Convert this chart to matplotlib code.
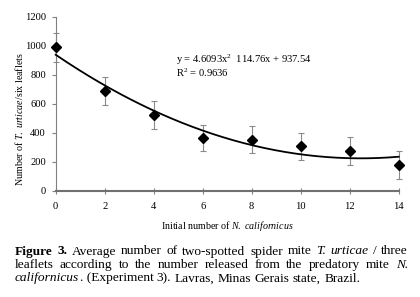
import matplotlib
matplotlib.use('Agg')
import matplotlib.pyplot as plt
import numpy as np

# ---- data ----
released = [0, 2, 4, 6, 8, 10, 12, 14]
mites = [990, 688, 520, 366, 352, 306, 272, 177]
err = [100, 95, 97, 90, 95, 95, 95, 95]
coef = [4.6093, -114.76, 937.54]
xticks = [0, 2, 4, 6, 8, 10, 12, 14]
yticks = [0, 200, 400, 600, 800, 1000, 1200]

plt.rcParams['font.family'] = ['Liberation Serif', 'DejaVu Serif']
plt.rcParams['mathtext.fontset'] = 'custom'
plt.rcParams['mathtext.rm'] = 'Liberation Serif'
plt.rcParams['mathtext.it'] = 'Liberation Serif:italic'
plt.rcParams['mathtext.bf'] = 'Liberation Serif:bold'

W, H = 420, 297
fig = plt.figure(figsize=(W / 100, H / 100), dpi=100)
x0, x1, ytop, ybot = 55.7, 398.7, 16.7, 190.7
ax = fig.add_axes([x0 / W, 1 - ybot / H, (x1 - x0) / W, (ybot - ytop) / H])

xs = np.linspace(0, 14, 300)
ax.plot(xs, np.polyval(coef, xs), color='black', lw=1.3, clip_on=False, zorder=3)
ax.errorbar(released, mites, yerr=err, fmt='none', ecolor='#8a8a8a',
            elinewidth=0.8, capsize=2.3, capthick=0.8, clip_on=False, zorder=2)
ax.plot(released, mites, 'D', color='black', ms=5.2, clip_on=False, zorder=5)

ax.set_xlim(0, 14)
ax.set_ylim(0, 1200)
ax.set_xticks(xticks)
ax.set_yticks(yticks)
for s in ('top', 'right'):
    ax.spines[s].set_visible(False)
ax.spines['left'].set_color('#808080')
ax.spines['left'].set_linewidth(0.8)
ax.spines['bottom'].set_color('#707070')
ax.spines['bottom'].set_linewidth(1.5)
ax.tick_params(axis='y', direction='out', length=3, width=0.8, color='#808080',
               labelsize=7.6, pad=4)
ax.tick_params(axis='x', direction='inout', length=4, width=0.8, color='#808080',
               labelsize=7.6, pad=6)

ax.text(4.9, 784, 'y = 4.6093x$^{2}$  114.76x + 937.54\nR$^{2}$ = 0.9636',
        fontsize=7.6, va='baseline', ha='left', linespacing=0.95)

fig.text(227 / W, 1 - 226 / H, r'Initial number of $\mathit{N.\ californicus}$',
         fontsize=7.2, ha='center', va='center')
fig.text(19 / W, 1 - 119 / H, r'Number of $\mathit{T.\ urticae}$/six leaflets',
         fontsize=7.2, ha='center', va='center', rotation=90)

# ---- caption, justified ----
cap_lines = [
    [("Figure", 'b'), ("3.", 'b'), ("Average", 'n'), ("number", 'n'), ("of", 'n'),
     ("two-spotted", 'n'), ("spider", 'n'), ("mite", 'n'), ("T.", 'i'), ("urticae", 'i'),
     ("/", 'n'), ("three", 'n')],
    [("leaflets", 'n'), ("according", 'n'), ("to", 'n'), ("the", 'n'), ("number", 'n'),
     ("released", 'n'), ("from", 'n'), ("the", 'n'), ("predatory", 'n'), ("mite", 'n'),
     ("N.", 'i')],
    [("californicus", 'i'), (". (Experiment", 'n'), ("3).", 'n'), ("Lavras,", 'n'),
     ("Minas", 'n'), ("Gerais", 'n'), ("state,", 'n'), ("Brazil.", 'n')],
]
baselines = [254.5, 268, 281.5]
justify = [True, True, False]
cap_fs = 9.6
left_px, right_px = 15, 408
renderer = fig.canvas.get_renderer()
probe1 = fig.text(0, 0, 'a b', fontsize=cap_fs)
probe2 = fig.text(0, 0, 'ab', fontsize=cap_fs)
space = probe1.get_window_extent(renderer).width - probe2.get_window_extent(renderer).width
probe1.remove()
probe2.remove()
for words, yb, jus in zip(cap_lines, baselines, justify):
    arts = []
    for w, st in words:
        kw = dict(fontsize=cap_fs, va='baseline', ha='left')
        if st == 'b':
            kw['fontweight'] = 'bold'
        if st == 'i':
            kw['fontstyle'] = 'italic'
        arts.append(fig.text(0, 1 - yb / H, w, **kw))
    widths = [a.get_window_extent(renderer).width for a in arts]
    if jus:
        gap = (right_px - left_px - sum(widths)) / (len(arts) - 1)
    else:
        gap = space
    x = left_px
    for i, (a, w) in enumerate(zip(arts, widths)):
        a.set_x(x / W)
        nxt = words[i + 1][0] if i + 1 < len(words) else ''
        x += w + (0.3 if nxt.startswith('.') else gap)

fig.savefig('out.png', dpi=100)
